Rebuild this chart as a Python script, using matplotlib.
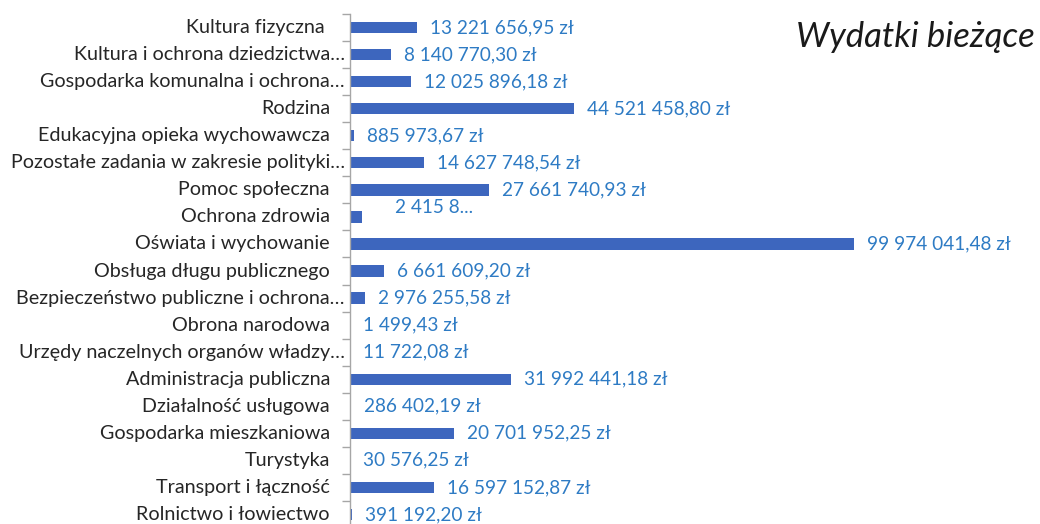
import matplotlib
matplotlib.use("Agg")
import matplotlib.pyplot as plt
from matplotlib.transforms import offset_copy, blended_transform_factory

plt.rcParams['font.family'] = ['Lato', 'DejaVu Sans']

categories = [
    "Kultura fizyczna",
    "Kultura i ochrona dziedzictwa…",
    "Gospodarka komunalna i ochrona…",
    "Rodzina",
    "Edukacyjna opieka wychowawcza",
    "Pozostałe zadania w zakresie polityki…",
    "Pomoc społeczna",
    "Ochrona zdrowia",
    "Oświata i wychowanie",
    "Obsługa długu publicznego",
    "Bezpieczeństwo publiczne i ochrona…",
    "Obrona narodowa",
    "Urzędy naczelnych organów władzy…",
    "Administracja publiczna",
    "Działalność usługowa",
    "Gospodarka mieszkaniowa",
    "Turystyka",
    "Transport i łączność",
    "Rolnictwo i łowiectwo",
]
values = [
    13221656.95, 8140770.30, 12025896.18, 44521458.80, 885973.67,
    14627748.54, 27661740.93, 2415800.00, 99974041.48, 6661609.20,
    2976255.58, 1499.43, 11722.08, 31992441.18, 286402.19,
    20701952.25, 30576.25, 16597152.87, 391192.20,
]
truncated_labels = {"Ochrona zdrowia": "2 415 8..."}
title = "Wydatki bieżące"


def fmt_pl(v):
    s = f"{v:,.2f}"
    s = s.replace(",", " ").replace(".", ",")
    return s + " zł"


W, H = 1040, 524
fig = plt.figure(figsize=(W / 100, H / 100), dpi=100)
ax = fig.add_axes([350 / W, (H - 528) / H, 690 / W, 514 / H])

n = len(categories)
ypos = list(range(n))
ax.barh(ypos, values, height=0.42, color='#3D66BE', edgecolor='none')
ax.set_ylim(n - 0.5, -0.5)
ax.set_xlim(0, 137e6)

for s in ['top', 'right', 'bottom']:
    ax.spines[s].set_visible(False)
ax.spines['left'].set_color('#A6A6A6')
ax.spines['left'].set_linewidth(1.0)
ax.set_xticks([])
ax.set_yticks(ypos)
ax.set_yticklabels([])
ax.tick_params(axis='y', which='major', length=0)
ax.set_yticks([i - 0.5 for i in range(n + 1)], minor=True)
ax.tick_params(axis='y', which='minor', length=6, color='#A6A6A6', width=1.0)

trans = blended_transform_factory(ax.transAxes, ax.transData)
for i, c in enumerate(categories):
    dx = -5 if c.endswith('…') else (-25 if c in ("Kultura fizyczna",) else -20)
    t = offset_copy(trans, fig=fig, x=dx, y=0, units='dots')
    ax.text(0, i, c, transform=t, ha='right', va='center',
            fontsize=14.2, color='#262626')

for i, (c, v) in enumerate(zip(categories, values)):
    if c in truncated_labels:
        t = offset_copy(ax.transData, fig=fig, x=33, y=9, units='dots')
        ax.text(v, i, truncated_labels[c], transform=t, ha='left', va='center',
                fontsize=13.7, color='#2E7BC4')
    else:
        t = offset_copy(ax.transData, fig=fig, x=13, y=0, units='dots')
        ax.text(v, i, fmt_pl(v), transform=t, ha='left', va='center',
                fontsize=13.7, color='#2E7BC4')

fig.text(1035 / W, 1 - 37 / H, title, ha='right', va='center',
         fontsize=25, fontstyle='italic', color='#1a1a1a')

fig.savefig("out.png", dpi=100)
